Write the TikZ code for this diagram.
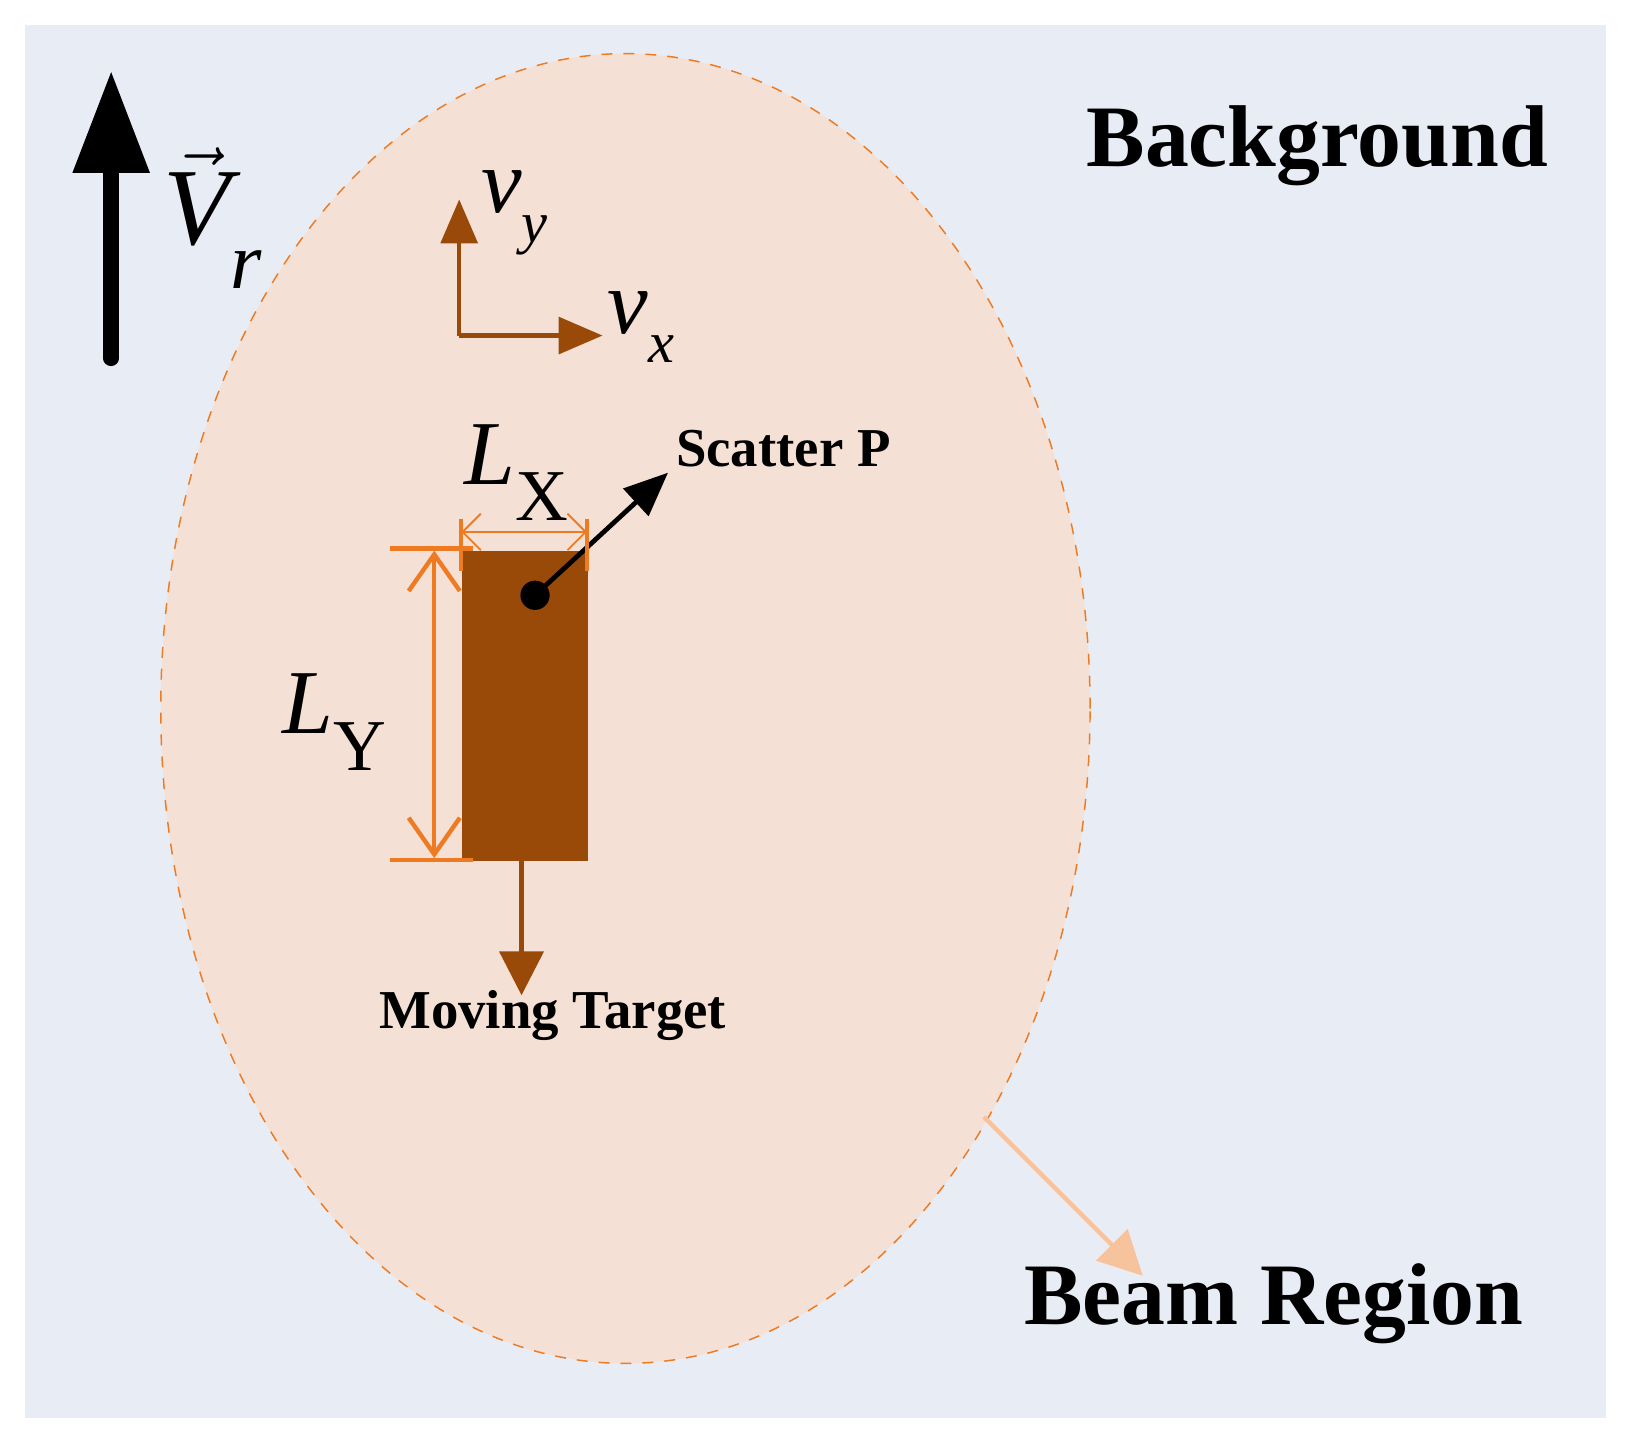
\documentclass[tikz,border=0pt]{standalone}
\usepackage{fontspec}
\setmainfont{Liberation Serif}
\usetikzlibrary{arrows.meta,shapes.geometric}
\definecolor{bg}{HTML}{E8EDF5}
\definecolor{beam}{HTML}{F4E0D4}
\definecolor{brn}{HTML}{9A4A08}
\definecolor{org}{HTML}{EE7A22}
\definecolor{lorg}{HTML}{F7C39C}
\tikzset{lbl/.style={font=\bfseries\fontsize{15}{17}\selectfont, inner sep=0pt},
big/.style={font=\bfseries\fontsize{24}{28}\selectfont, inner sep=0pt},
sym/.style={font=\itshape\fontsize{25}{28}\selectfont, inner sep=0pt}}
\begin{document}
\begin{tikzpicture}[x=0.01cm,y=-0.01cm]
\useasboundingbox (0,0) rectangle (1568,1392);
\fill[bg] (24,24) rectangle (1546,1365);
\node[draw=org, dashed, fill=beam, ellipse, minimum width=8.94cm, minimum height=12.6cm, inner sep=0pt] (ell) at (602,682) {};
% velocity
\coordinate (vb) at (107,345); \coordinate (vt) at (107,68);
\draw[line width=4.2pt, line cap=round, -{Triangle[length=28pt,width=20pt]}] (vb) -- (vt);
\node[sym] (vr) at (205,210) {\fontsize{30}{30}\selectfont$\vec{\hbox{\itshape V}}$\raisebox{-12pt}{\fontsize{22}{22}\selectfont r}};
% axes
\coordinate (o) at (442,323); \coordinate (ay) at (442,192); \coordinate (ax) at (580,323);
\draw[brn, line width=1.2pt, -{Triangle[length=12pt,width=10pt]}] (o) -- (ay);
\draw[brn, line width=1.2pt, -{Triangle[length=12pt,width=10pt]}] (o) -- (ax);
\node[sym] (vy) at (495,205) {v\raisebox{-8pt}{\fontsize{16}{16}\selectfont y}};
\node[sym] (vx) at (617,315) {v\raisebox{-8pt}{\fontsize{16}{16}\selectfont x}};
% target
\node[fill=brn, minimum width=1.21cm, minimum height=2.98cm, inner sep=0pt, anchor=north west] (tgt) at (444,530) {};
\coordinate (p) at (515,573); \coordinate (pt) at (643,455);
\fill (p) circle (4pt);
\draw[line width=1.3pt, -{Triangle[length=12pt,width=10pt]}] (p) -- (pt);
\node[lbl, anchor=west] (sp) at (650,432) {Scatter P};
% L_X
\draw[org, line width=1pt] (444,500) -- (444,550) (565,500) -- (565,550);
\draw[org, line width=0.5pt, {Straight Barb[length=5pt]}-{Straight Barb[length=5pt]}] (444,512) -- (565,512);
\node[sym] (lx) at (497,455) {L\raisebox{-10pt}{\fontsize{20}{20}\upshape X}};
% L_Y
\draw[org, line width=1.2pt] (375,528) -- (455,528) (375,828) -- (455,828);
\draw[org, line width=1.2pt, {Straight Barb[length=10pt,width=14pt]}-{Straight Barb[length=10pt,width=14pt]}] (418,530) -- (418,826);
\node[sym] (ly) at (322,695) {L\raisebox{-10pt}{\fontsize{20}{20}\upshape Y}};
% moving
\coordinate (mb) at (502,828); \coordinate (me) at (502,958);
\draw[brn, line width=1.2pt, -{Triangle[length=12pt,width=12pt]}] (mb) -- (me);
\node[lbl] (mt) at (532,978) {Moving Target};
% beam
\coordinate (bs) at (947,1075); \coordinate (be) at (1100,1228);
\draw[lorg, line width=1.2pt, -{Triangle[length=12pt,width=12pt]}] (bs) -- (be);
\node[big] (br) at (1226,1255) {Beam Region};
\node[big] (bgl) at (1268,140) {Background};
\end{tikzpicture}
\end{document}
